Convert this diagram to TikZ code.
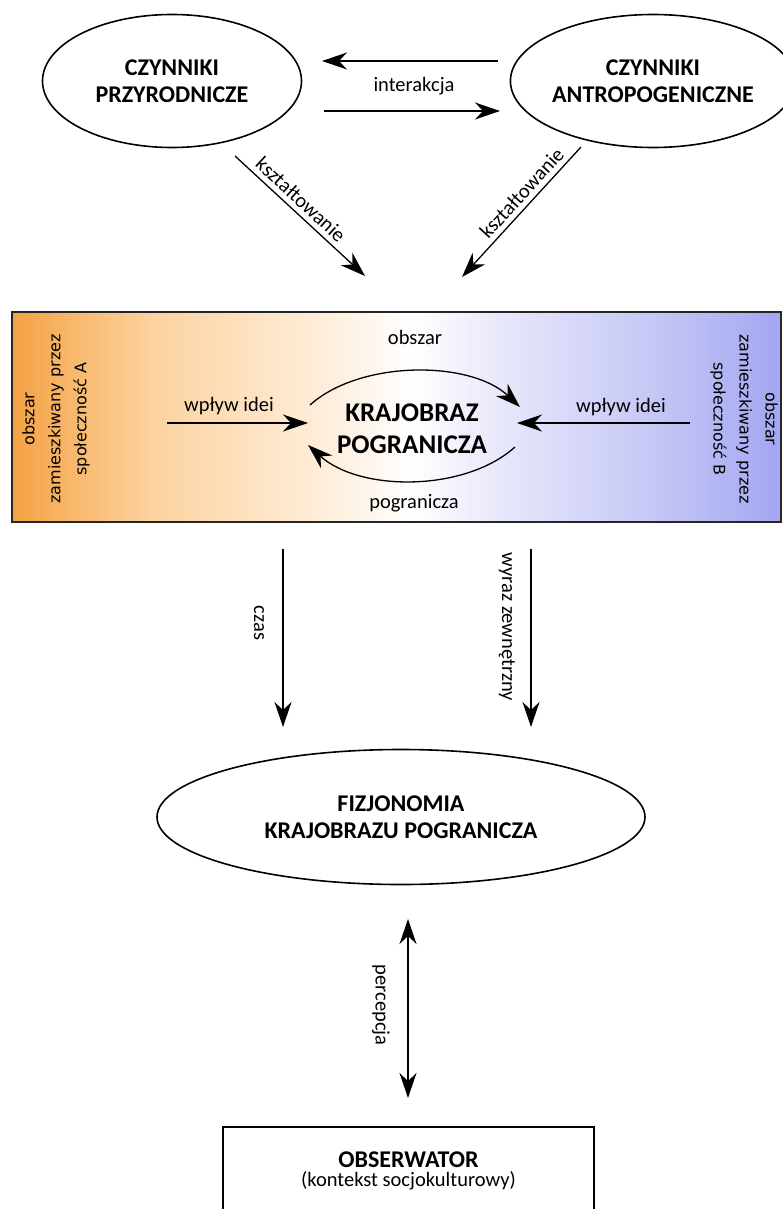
\documentclass[tikz,border=0pt]{standalone}
\usepackage{fontspec}
\setmainfont{Carlito}
\newfontfamily\sidefont{DejaVu Sans}
\usetikzlibrary{arrows.meta}
\usetikzlibrary{shapes,positioning}
\tikzset{>={Stealth[length=25pt,width=17pt,inset=8pt]}}
\definecolor{bandA}{HTML}{F5A243}
\definecolor{bandA2}{HTML}{FCD29F}
\definecolor{bandA3}{HTML}{FEEEDC}
\definecolor{bandB3}{HTML}{E8E8FB}
\definecolor{bandB2}{HTML}{C6C8F6}
\definecolor{bandB}{HTML}{A3A6F1}
\pgfdeclarehorizontalshading{border}{100bp}{color(0bp)=(bandA); color(25bp)=(bandA);
  color(34bp)=(bandA2); color(45.5bp)=(bandA3); color(51bp)=(white);
  color(56.5bp)=(bandB3); color(66.5bp)=(bandB2); color(75bp)=(bandB); color(100bp)=(bandB)}
\tikzset{
  factor/.style={ellipse,draw,line width=1.6pt,align=center,inner sep=0pt,
    font=\bfseries\fontsize{24}{27}\selectfont},
  lbl/.style={font=\fontsize{20.5}{24}\selectfont,inner sep=2pt},
  side/.style={align=center,font=\sidefont\fontsize{16}{26}\selectfont},
  link/.style={->,line width=1.3pt},
}

\begin{document}
\begin{tikzpicture}[x=1pt,y=-1pt]
        \useasboundingbox (0,0) rectangle (783,1209);
        \clip (0,0) rectangle (783,1209);
        \node[factor,minimum width=259pt,minimum height=133pt] (przyr) at (172,81) {CZYNNIKI\\PRZYRODNICZE};
        \node[factor,minimum width=259pt,minimum height=133pt] (antrop) at (653,81) {CZYNNIKI\\ANTROPOGENICZNE};
        \coordinate (ia) at (498,61);
        \coordinate (ib) at (322,61);
        \coordinate (ic) at (324,111);
        \coordinate (id) at (500,111);
        \draw[link] (ia) -- (ib);
        \draw[link] (ic) -- (id);
        \node[lbl] (inter) at (414,86) {interakcja};
        \coordinate (k1) at (235,156);
        \coordinate (k2) at (365,276);
        \coordinate (k3) at (581,147);
        \coordinate (k4) at (462,277);
        \draw[link] (k1) -- node[lbl,sloped,above=3pt,pos=0.44] {kształtowanie} (k2);
        \draw[link] (k3) -- node[lbl,sloped,above=3pt,pos=0.42] {kształtowanie} (k4);
        % pas pogranicza
        \shadedraw[shading=border,line width=1.6pt,draw=black!85] (12,312) rectangle (781,522);
        \node[side,rotate=90] (spolA) at (56,419) {obszar\\zamieszkiwany przez\\społeczność A};
        \node[side,rotate=-90] (spolB) at (744,419) {obszar\\zamieszkiwany przez\\społeczność B};
        \node[align=center,font=\bfseries\fontsize{27}{32}\selectfont] (kraj) at (412,429) {KRAJOBRAZ\\POGRANICZA};
        \node[lbl] (obsz) at (415,337) {obszar};
        \node[lbl] (pogr) at (414,503) {pogranicza};
        \node[lbl] (ideaA) at (229,406) {wpływ idei};
        \node[lbl] (ideaB) at (621,407) {wpływ idei};
        \coordinate (wa) at (167,423);
        \coordinate (wb) at (308,423);
        \coordinate (wc) at (690,423);
        \coordinate (wd) at (517,423);
        \draw[link] (wa) -- (wb);
        \draw[link] (wc) -- (wd);
        \coordinate (ua) at (310,405);
        \coordinate (ub) at (520,407);
        \coordinate (la) at (515,447);
        \coordinate (lb) at (308,445);
        \draw[link] (ua) .. controls (360,360) and (470,360) .. (ub);
        \draw[link] (la) .. controls (465,492) and (360,492) .. (lb);
        % czas i wyraz
        \coordinate (ca) at (283,549);
        \coordinate (cb) at (283,727);
        \coordinate (za) at (531,549);
        \coordinate (zb) at (531,727);
        \draw[link] (ca) -- (cb);
        \draw[link] (za) -- (zb);
        \node[lbl,rotate=-90] (czas) at (259,623) {czas};
        \node[lbl,rotate=-90] (wyraz) at (507,627) {wyraz zewnętrzny};
        \node[factor,minimum width=488pt,minimum height=135pt] (fizj) at (401,817) {FIZJONOMIA\\KRAJOBRAZU POGRANICZA};
        \node[draw,line width=1.6pt,minimum width=371pt,minimum height=88pt,align=center,anchor=north] (obs) at (408.5,1126)
          {{\bfseries\fontsize{24}{27}\selectfont OBSERWATOR}\\[3pt]{\fontsize{20.5}{24}\selectfont (kontekst socjokulturowy)}};
        \coordinate (pa) at (408,919);
        \coordinate (pb) at (408,1098);
        \draw[link,<->] (pa) -- (pb);
        \node[lbl,rotate=-90] (perc) at (381,1005) {percepcja};
      \end{tikzpicture}
\end{document}
